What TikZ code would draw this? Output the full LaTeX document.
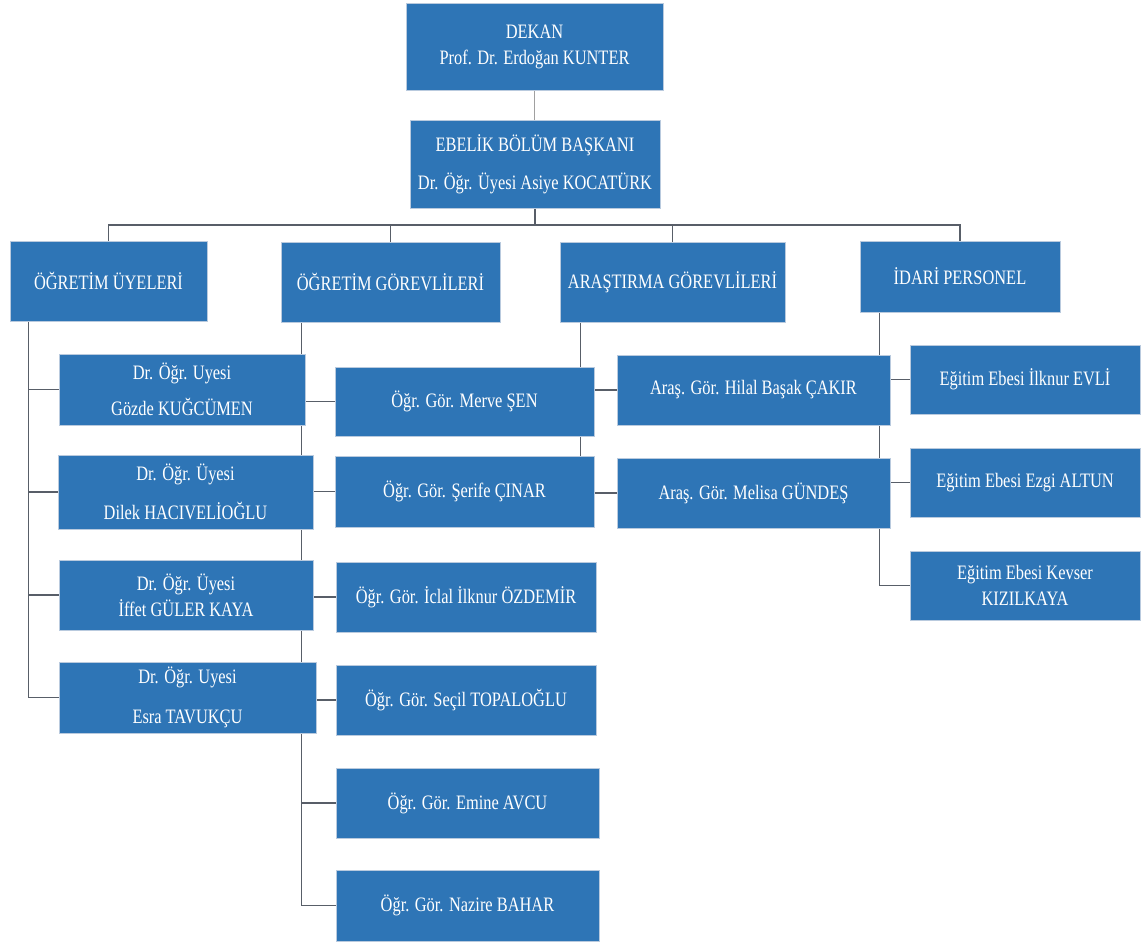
\documentclass[tikz,border=0pt]{standalone}
\usepackage{fontspec}
\setmainfont{Liberation Serif}[FakeStretch=0.8]
\usepackage{tikz}
\usetikzlibrary{backgrounds, positioning}
\definecolor{boxblue}{RGB}{46,117,182}
\definecolor{boxedge}{RGB}{185,202,222}
\definecolor{linkgray}{RGB}{88,94,104}
\definecolor{lightlink}{RGB}{160,160,160}

\begin{document}
\begin{tikzpicture}
    [
        x=1pt, y=-1pt,
        unit/.style = {
            rectangle, fill=boxblue, draw=boxedge, line width=0.6pt,
            text=white, align=center, inner sep=0pt,
            font=\fontsize{20.5}{26}\selectfont
        },
        boxsize/.style 2 args = {
            minimum width=#1pt, minimum height=#2pt
        },
        link/.style = {
            draw=linkgray, line width=1.2pt
        },
        toplink/.style = {
            draw=lightlink, line width=1.2pt
        },
    ]
    \useasboundingbox (0,0) rectangle (1148,942);
    % top
    \node[unit, boxsize={257}{87}] (dekan) at (534.5,46.5) {DEKAN\\Prof. Dr. Erdoğan KUNTER};
    \node[unit, boxsize={250}{88}] (bolum) at (535,164) {EBELİK BÖLÜM BAŞKANI\\[12pt]Dr. Öğr. Üyesi Asiye KOCATÜRK};
    % groups
    \node[unit, boxsize={197}{80}] (uyeler) at (108.5,281) {ÖĞRETİM ÜYELERİ};
    \node[unit, boxsize={219}{80}] (gorevli) at (390.5,282) {ÖĞRETİM GÖREVLİLERİ};
    \node[unit, boxsize={225}{80}] (arastirma) at (672.5,282) {ARAŞTIRMA GÖREVLİLERİ};
    \node[unit, boxsize={200}{71}] (idari) at (960,276.5) {İDARİ PERSONEL};
    % ogretim uyeleri
    \node[unit, boxsize={246}{71}] (gozde) at (182,389.5) {Dr. Öğr. Uyesi\\[10pt]Gözde KUĞCÜMEN};
    \node[unit, boxsize={255}{74}] (dilek) at (185.5,492) {Dr. Öğr. Üyesi\\[13pt]Dilek HACIVELİOĞLU};
    \node[unit, boxsize={254}{70}] (iffet) at (186,595) {Dr. Öğr. Üyesi\\İffet GÜLER KAYA};
    \node[unit, boxsize={257}{71}] (esra) at (187.5,697.5) {Dr. Öğr. Uyesi\\[14pt]Esra TAVUKÇU};
    % ogretim gorevlileri
    \node[unit, boxsize={259}{69}] (merve) at (464.5,401.5) {Öğr. Gör. Merve ŞEN};
    \node[unit, boxsize={259}{71}] (serife) at (464.5,491.5) {Öğr. Gör. Şerife ÇINAR};
    \node[unit, boxsize={260}{70}] (iclal) at (466,597) {Öğr. Gör. İclal İlknur ÖZDEMİR};
    \node[unit, boxsize={260}{70}] (secil) at (466,700) {Öğr. Gör. Seçil TOPALOĞLU};
    \node[unit, boxsize={263}{70}] (emine) at (467.5,803) {Öğr. Gör. Emine AVCU};
    \node[unit, boxsize={263}{71}] (nazire) at (467.5,905.5) {Öğr. Gör. Nazire BAHAR};
    % arastirma gorevlileri
    \node[unit, boxsize={273}{70}] (hilal) at (753.5,390) {Araş. Gör. Hilal Başak ÇAKIR};
    \node[unit, boxsize={273}{70}] (melisa) at (753.5,493) {Araş. Gör. Melisa GÜNDEŞ};
    % idari personel
    \node[unit, boxsize={230}{69}] (evli) at (1025,379.5) {Eğitim Ebesi İlknur EVLİ};
    \node[unit, boxsize={230}{69}] (ezgi) at (1025,482.5) {Eğitim Ebesi Ezgi ALTUN};
    \node[unit, boxsize={230}{69}] (kevser) at (1025,585.5) {Eğitim Ebesi Kevser\\KIZILKAYA};

    \begin{scope}[on background layer]
    \fill[white] (0,0) rectangle (1148,942);
    \draw[toplink] (dekan.south) -- (dekan.south |- bolum.north);
    \coordinate (bus) at (535,225);
    \draw[link] (bolum.south) -- (bus);
    \draw[link] (bus) -| (uyeler.north);
    \draw[link] (bus) -| (gorevli.north);
    \draw[link] (bus) -| (arastirma.north);
    \draw[link] (bus) -| (idari.north);
    % rails
    \coordinate (uyeler rail) at ([xshift=18.5pt]uyeler.south west);
    \coordinate (gorevli rail) at ([xshift=21pt]gorevli.south west);
    \coordinate (arastirma rail) at ([xshift=21pt]arastirma.south west);
    \coordinate (idari rail) at ([xshift=19.5pt]idari.south west);
    \draw[link] (uyeler rail) |- (gozde.west);
    \draw[link] (uyeler rail) |- (dilek.west);
    \draw[link] (uyeler rail) |- (iffet.west);
    \draw[link] (uyeler rail) |- (esra.west);
    \draw[link] (gorevli rail) |- (merve.west);
    \draw[link] (gorevli rail) |- (serife.west);
    \draw[link] (gorevli rail) |- (iclal.west);
    \draw[link] (gorevli rail) |- (secil.west);
    \draw[link] (gorevli rail) |- (emine.west);
    \draw[link] (gorevli rail) |- (nazire.west);
    \draw[link] (arastirma rail) |- (hilal.west);
    \draw[link] (arastirma rail) |- (melisa.west);
    \draw[link] (idari rail) |- (evli.west);
    \draw[link] (idari rail) |- (ezgi.west);
    \draw[link] (idari rail) |- (kevser.west);
    \end{scope}
\end{tikzpicture}
\end{document}
